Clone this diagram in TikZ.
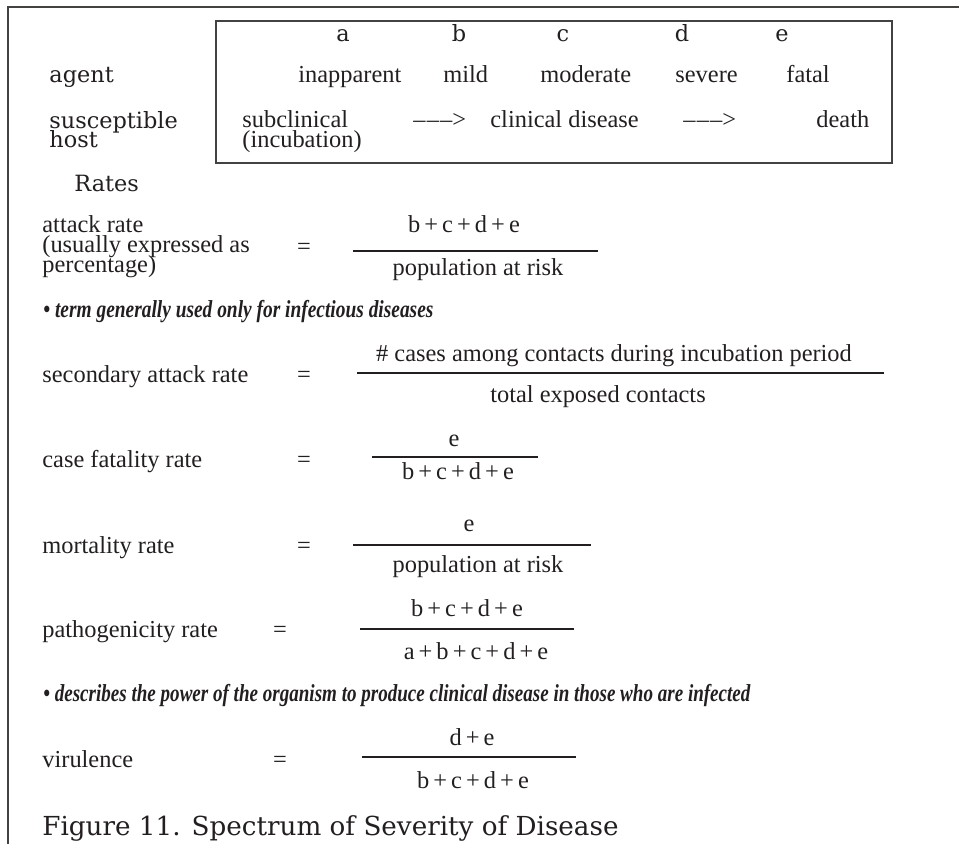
\documentclass[tikz,border=0pt]{standalone}
\usepackage{fontspec}
\usepackage{graphicx}
\setmainfont{Liberation Serif}
\newfontfamily\widefont{DejaVu Serif}
\usetikzlibrary{positioning}
\definecolor{ink}{RGB}{35,31,32}
\newcommand{\bodyfont}{\fontsize{12.2}{10}\selectfont\lineskiplimit=-20pt}
\newcommand{\headfont}{\widefont\fontsize{11.2}{9.8}\selectfont\lineskiplimit=-20pt}
\newcommand{\pls}{\,+\,}
\newcommand{\arw}{\textendash\kern0.6pt\textendash\kern0.6pt\textendash>}
\tikzset{
  txt/.style  = {anchor=base west, inner sep=0pt, text=ink, font=\bodyfont, align=left},
  mid/.style  = {anchor=base, inner sep=0pt, text=ink, font=\bodyfont},
  hd/.style   = {anchor=base west, inner sep=0pt, text=ink, font=\headfont, align=left},
  hdc/.style  = {anchor=base, inner sep=0pt, text=ink, font=\headfont},
  note/.style = {anchor=base west, inner sep=0pt, text=ink, font=\bodyfont\bfseries\itshape},
  bar/.style  = {draw=ink, line width=0.75pt},
  rule/.style = {draw=ink!85, line width=0.7pt},
}

\begin{document}
\begin{tikzpicture}[x=0.5pt,y=-0.5pt]
  \useasboundingbox (0,0) rectangle (959,844);
  % outer frame
  \coordinate (frbl) at (8,844);
  \coordinate (frtl) at (8,7);
  \coordinate (frtr) at (959,7);
  \draw[rule] (frbl) -- (frtl) -- (frtr);
  % spectrum box
  \coordinate (boxnw) at (216,21);
  \coordinate (boxse) at (892,163);
  \draw[rule] (boxnw) rectangle (boxse);
  \foreach \p/\l in {343/a, 459/b, 563/c, 682/d, 782/e}
    {\node[hdc] (col\l) at (\p,42) {\l};}
  \node[hd] (agent) at (49,83) {agent};
  \node[hd] (host) at (49,148) {susceptible\\host};
  \foreach \p/\n/\t in {298/inapp/inapparent, 443/mild/mild, 540/mod/moderate,
                        675/sev/severe, 786/fat/fatal}
    {\node[txt] (\n) at (\p,83) {\t};}
  \node[txt] (subcl) at (242,148) {subclinical\\(incubation)};
  \node[txt] (arwa) at (413,128) {\arw};
  \node[txt] (clin) at (490,128) {clinical disease};
  \node[txt] (arwb) at (683,128) {\arw};
  \node[txt] (death) at (816,128) {death};
  \node[hd] (rates) at (74,192) {Rates};

  % attack rate
  \node[txt] (atk) at (42,273) {attack rate\\(usually expressed as\\percentage)};
  \node[mid] (atk-eq) at (304,255) {=};
  \coordinate (atk-l) at (353,251);
  \coordinate (atk-r) at (598,251);
  \draw[bar] (atk-l) -- (atk-r);
  \node[mid] (atk-num) at (464,233) {b\pls c\pls d\pls e};
  \node[mid] (atk-den) at (478,276) {population at risk};
  \node[note] (notea) at (43,318)
    {\resizebox{195pt}{\height}{\textbullet\ term generally used only for infectious diseases}};

  % secondary attack rate
  \node[txt] (sec) at (42,383) {secondary attack rate};
  \node[mid] (sec-eq) at (304,383) {=};
  \coordinate (sec-l) at (357,373);
  \coordinate (sec-r) at (884,373);
  \draw[bar] (sec-l) -- (sec-r);
  \node[mid] (sec-num) at (614,362) {\# cases among contacts during incubation period};
  \node[mid] (sec-den) at (598,403) {total exposed contacts};

  % case fatality rate
  \node[txt] (cfr) at (42,468) {case fatality rate};
  \node[mid] (cfr-eq) at (304,468) {=};
  \coordinate (cfr-l) at (372,457);
  \coordinate (cfr-r) at (538,457);
  \draw[bar] (cfr-l) -- (cfr-r);
  \node[mid] (cfr-num) at (454,447) {e};
  \node[mid] (cfr-den) at (458,480) {b\pls c\pls d\pls e};

  % mortality rate
  \node[txt] (mort) at (42,553) {mortality rate};
  \node[mid] (mort-eq) at (304,553) {=};
  \coordinate (mort-l) at (353,545);
  \coordinate (mort-r) at (591,545);
  \draw[bar] (mort-l) -- (mort-r);
  \node[mid] (mort-num) at (469,532) {e};
  \node[mid] (mort-den) at (478,573) {population at risk};

  % pathogenicity rate
  \node[txt] (path) at (42,638) {pathogenicity rate};
  \node[mid] (path-eq) at (280,638) {=};
  \coordinate (path-l) at (360,629);
  \coordinate (path-r) at (574,629);
  \draw[bar] (path-l) -- (path-r);
  \node[mid] (path-num) at (467,617) {b\pls c\pls d\pls e};
  \node[mid] (path-den) at (476,660) {a\pls b\pls c\pls d\pls e};
  \node[note] (noteb) at (43,702)
    {\resizebox{353.5pt}{\height}{\textbullet\ describes the power of the organism to produce clinical disease in those who are infected}};

  % virulence
  \node[txt] (vir) at (42,767) {virulence};
  \node[mid] (vir-eq) at (280,767) {=};
  \coordinate (vir-l) at (362,757);
  \coordinate (vir-r) at (576,757);
  \draw[bar] (vir-l) -- (vir-r);
  \node[mid] (vir-num) at (472,745) {d\pls e};
  \node[mid] (vir-den) at (473,788) {b\pls c\pls d\pls e};

  \node[hd, font=\widefont\fontsize{13.1}{14}\selectfont] (caption) at (42,835)
    {Figure 11. Spectrum of Severity of Disease};
\end{tikzpicture}
\end{document}
